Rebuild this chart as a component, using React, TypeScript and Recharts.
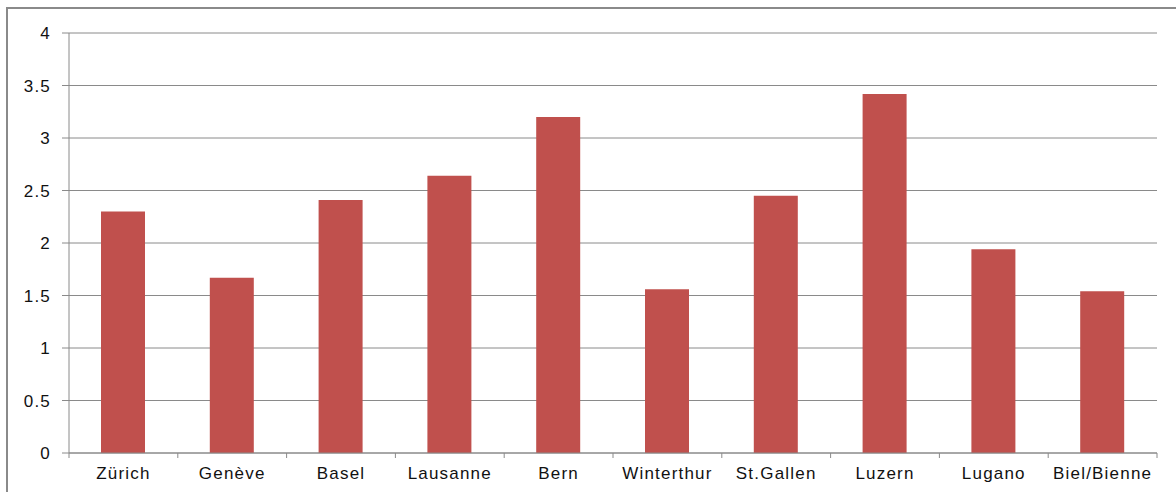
import { BarChart, Bar, XAxis, YAxis, CartesianGrid } from "recharts";

const cities = [
  "Zürich",
  "Genève",
  "Basel",
  "Lausanne",
  "Bern",
  "Winterthur",
  "St.Gallen",
  "Luzern",
  "Lugano",
  "Biel/Bienne",
];
const values = [2.3, 1.67, 2.41, 2.64, 3.2, 1.56, 2.45, 3.42, 1.94, 1.54];
const yTicks = [0, 0.5, 1, 1.5, 2, 2.5, 3, 3.5, 4];

const W = 1176;
const H = 492;
const M = { top: 33, right: 19, left: 0, bottom: 9 };
const Y_W = 69;
const GRID = "#8a8a8a";
const FONT = "'Liberation Sans', Arial, sans-serif";

const data = cities.map((name, i) => ({ name, value: values[i] }));
const band = (W - M.left - M.right - Y_W) / cities.length;

function CityTick(props: any) {
  const { x, y, payload, index } = props;
  const left = x - band / 2;
  return (
    <g>
      <line x1={left} y1={y} x2={left} y2={y + 5} stroke={GRID} />
      {index === cities.length - 1 && (
        <line x1={x + band / 2} y1={y} x2={x + band / 2} y2={y + 5} stroke={GRID} />
      )}
      <text
        x={x}
        y={y + 26}
        textAnchor="middle"
        fill="#111"
        fontSize={17}
        letterSpacing={1.2}
        fontFamily={FONT}
      >
        {payload.value}
      </text>
    </g>
  );
}

export default function App() {
  return (
    <div
      style={{
        position: "absolute",
        left: 0,
        top: 0,
        width: W,
        height: H,
        overflow: "hidden",
        background: "#fff",
      }}
    >
      <div
        style={{
          position: "absolute",
          left: 6,
          top: 7,
          width: 1300,
          height: 600,
          borderLeft: "2px solid #8a8a8a",
          borderTop: "2px solid #8a8a8a",
        }}
      />
      <div style={{ position: "absolute", left: 0, top: 0 }}>
        <BarChart width={W} height={H} data={data} margin={M} barSize={44}>
          <CartesianGrid vertical={false} stroke={GRID} />
          <XAxis
            dataKey="name"
            height={30}
            stroke={GRID}
            tickLine={false}
            tickSize={0}
            tickMargin={0}
            interval={0}
            tick={<CityTick />}
          />
          <YAxis
            width={Y_W}
            domain={[0, 4]}
            ticks={yTicks}
            stroke={GRID}
            tickSize={7}
            tickMargin={11}
            tick={{ fill: "#111", fontSize: 17, letterSpacing: 1.2, fontFamily: FONT }}
          />
          <Bar dataKey="value" fill="#C0504D" isAnimationActive={false} />
        </BarChart>
      </div>
    </div>
  );
}
